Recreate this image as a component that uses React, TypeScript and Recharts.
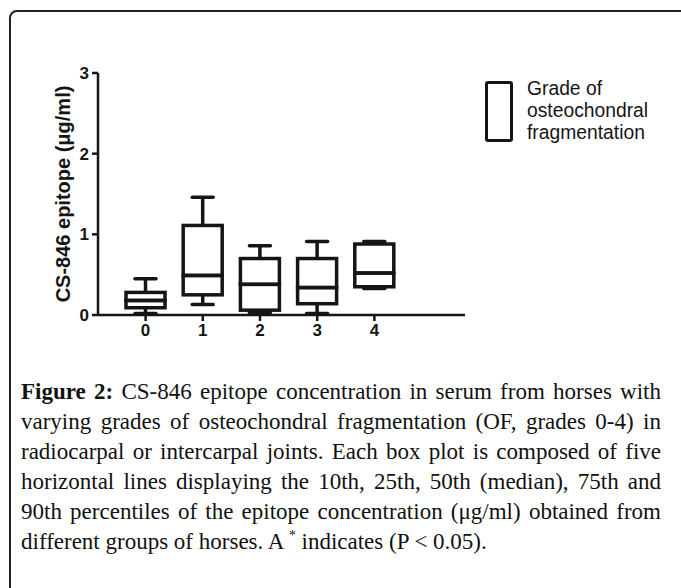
import { ComposedChart, Bar, XAxis, YAxis } from 'recharts';

// OF grades and percentile values (µg/ml)
const grades = ['0', '1', '2', '3', '4'];
const p10 = [0.02, 0.13, 0.03, 0.02, 0.33];
const p25 = [0.09, 0.25, 0.06, 0.14, 0.35];
const p50 = [0.18, 0.49, 0.38, 0.34, 0.52];
const p75 = [0.28, 1.11, 0.7, 0.7, 0.88];
const p90 = [0.45, 1.46, 0.86, 0.91, 0.91];
const yTicks = [0, 1, 2, 3];

const captionLines = [
    'CS-846 epitope concentration in serum from horses with',
    'varying grades of osteochondral fragmentation (OF, grades 0-4) in',
    'radiocarpal or intercarpal joints. Each box plot is composed of five',
    'horizontal lines displaying the 10th, 25th, 50th (median), 75th and',
    '90th percentiles of the epitope concentration (μg/ml) obtained from',
];

// stacked segments: invisible base, lower whisker, two box halves, upper whisker
const data = grades.map((g, i) => ({
    grade: g,
    base: p10[i],
    lowWhisker: p25[i] - p10[i],
    lowBox: p50[i] - p25[i],
    highBox: p75[i] - p50[i],
    highWhisker: p90[i] - p75[i],
}));

const INK = '#151515';
const LW = 3.5;
const CAP = 21;

const Empty = () => <g />;

const BoxPart = (props: any) => {
    const { x, y, width, height } = props;
    return <rect x={x} y={y} width={width} height={height} fill="none" stroke={INK} strokeWidth={LW} />;
};

const LowWhisker = (props: any) => {
    const { x, y, width, height } = props;
    const cx = x + width / 2;
    return (
        <g stroke={INK} strokeWidth={LW}>
            <line x1={cx} y1={y} x2={cx} y2={y + height} />
            <line x1={cx - CAP / 2} y1={y + height} x2={cx + CAP / 2} y2={y + height} strokeLinecap="round" />
        </g>
    );
};

const HighWhisker = (props: any) => {
    const { x, y, width, height } = props;
    const cx = x + width / 2;
    return (
        <g stroke={INK} strokeWidth={LW}>
            <line x1={cx} y1={y} x2={cx} y2={y + height} />
            <line x1={cx - CAP / 2} y1={y} x2={cx + CAP / 2} y2={y} strokeLinecap="round" />
        </g>
    );
};

const sans = 'Arial, "Liberation Sans", sans-serif';
const serif = '"Liberation Serif", "Times New Roman", serif';

export default function App() {
    return (
        <div style={{ position: 'absolute', left: 0, top: 0, width: 681, height: 588, overflow: 'hidden', background: '#fff' }}>
            {/* rounded frame */}
            <div
                style={{
                    position: 'absolute',
                    left: 9,
                    top: 10,
                    width: 720,
                    height: 640,
                    border: '2px solid #222',
                    borderRadius: 8,
                    boxSizing: 'border-box',
                }}
            />

            <div style={{ position: 'absolute', left: 0, top: 0 }}>
                <ComposedChart
                    width={681}
                    height={345}
                    data={data}
                    margin={{ top: 73, right: 216, bottom: 0, left: 0 }}
                >
                    <XAxis
                        dataKey="grade"
                        height={30}
                        padding={{ left: 19, right: 62 }}
                        axisLine={{ stroke: INK, strokeWidth: 2.5 }}
                        tickLine={{ stroke: INK, strokeWidth: 2.5 }}
                        tickSize={6}
                        tickMargin={3}
                        tick={{ fill: INK, fontSize: 17, fontWeight: 700, fontFamily: sans }}
                    />
                    <YAxis
                        type="number"
                        domain={[0, 3]}
                        ticks={yTicks}
                        width={98}
                        axisLine={{ stroke: INK, strokeWidth: 2.5 }}
                        tickLine={{ stroke: INK, strokeWidth: 2.5 }}
                        tickSize={6}
                        tickMargin={3}
                        tick={{ fill: INK, fontSize: 17, fontWeight: 700, fontFamily: sans }}
                        label={{
                            value: 'CS-846 epitope (μg/ml)',
                            angle: -90,
                            position: 'insideLeft',
                            offset: 63,
                            style: { textAnchor: 'middle', fill: INK, fontSize: 20, fontWeight: 700, fontFamily: sans },
                        }}
                    />
                    <Bar dataKey="base" stackId="b" barSize={39} shape={<Empty />} isAnimationActive={false} />
                    <Bar dataKey="lowWhisker" stackId="b" barSize={39} shape={<LowWhisker />} isAnimationActive={false} />
                    <Bar dataKey="lowBox" stackId="b" barSize={39} shape={<BoxPart />} isAnimationActive={false} />
                    <Bar dataKey="highBox" stackId="b" barSize={39} shape={<BoxPart />} isAnimationActive={false} />
                    <Bar dataKey="highWhisker" stackId="b" barSize={39} shape={<HighWhisker />} isAnimationActive={false} />
                </ComposedChart>
            </div>

            {/* legend */}
            <div style={{ position: 'absolute', left: 485, top: 81, width: 28, height: 61, border: `${LW}px solid ${INK}`, borderRadius: 3, boxSizing: 'border-box' }} />
            <div style={{ position: 'absolute', left: 527, top: 78, fontFamily: sans, fontSize: 19.3, lineHeight: '22px', color: INK }}>
                Grade of
                <br />
                osteochondral
                <br />
                fragmentation
            </div>

            {/* caption */}
            <div style={{ position: 'absolute', left: 21, top: 377, width: 640, fontFamily: serif, fontSize: 23, lineHeight: '30px', color: '#111' }}>
                {captionLines.map((line, i) => (
                    <div key={i} style={{ textAlign: 'justify', textAlignLast: 'justify', whiteSpace: 'nowrap' }}>
                        {i === 0 && <b>Figure 2: </b>}
                        {line}
                    </div>
                ))}
                <div>
                    different groups of horses. A <sup style={{ fontSize: '0.6em', lineHeight: 0 }}>*</sup> indicates (P &lt; 0.05).
                </div>
            </div>
        </div>
    );
}
